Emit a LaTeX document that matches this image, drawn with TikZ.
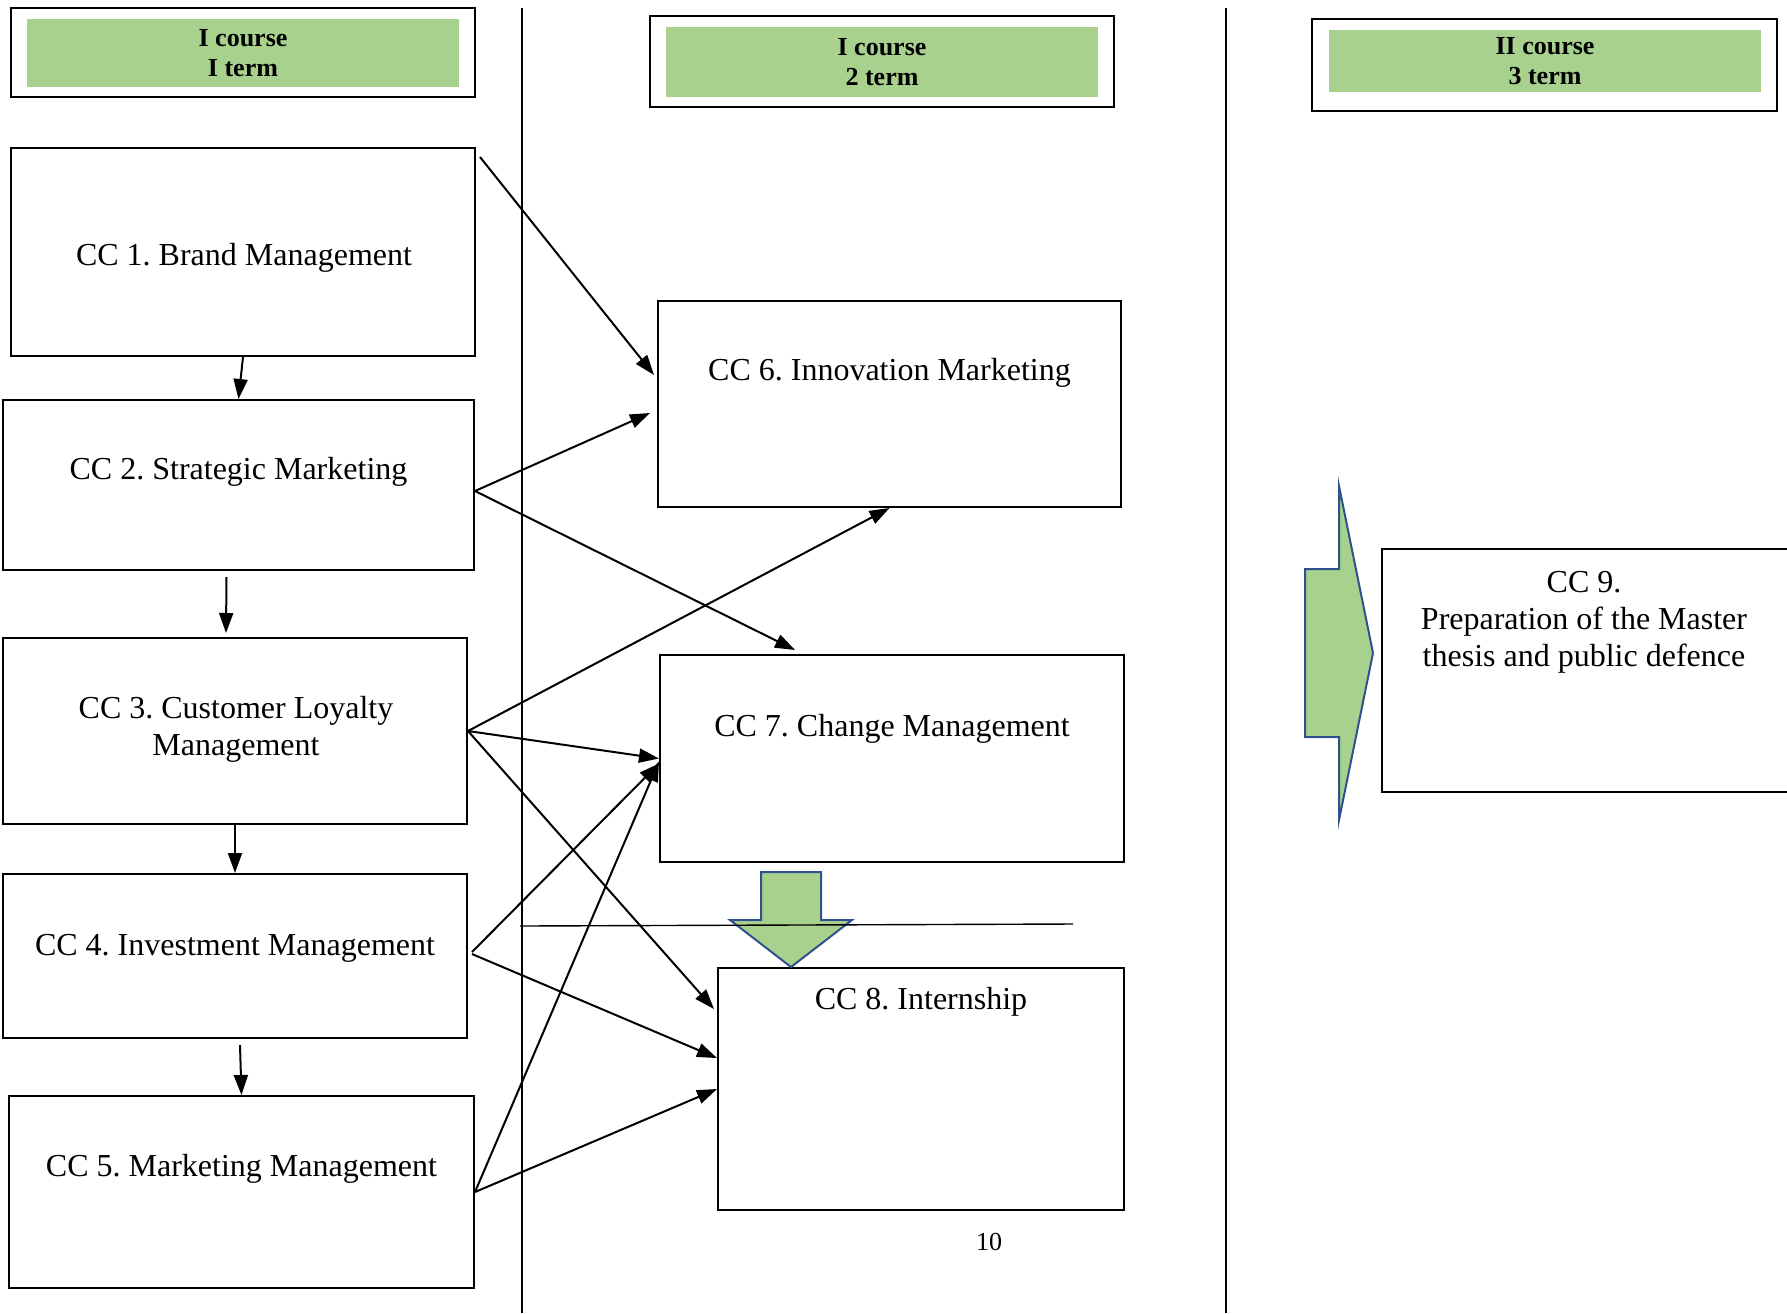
\documentclass[tikz,border=0pt]{standalone}
\usepackage{fontspec}
\setmainfont{Liberation Serif}
\frenchspacing
\usetikzlibrary{arrows.meta}
\definecolor{headgreen}{HTML}{A9D18E}
\definecolor{shapeblue}{HTML}{2F528F}
\begin{document}
\begin{tikzpicture}[x=0.5pt, y=-0.5pt,
    ccbox/.style={draw, line width=1pt, rectangle, inner sep=0pt},
    cctext/.style={align=center, font=\fontsize{16}{18.5}\selectfont},
    headbox/.style={fill=headgreen, inner sep=0pt, align=center, minimum width=216pt, font=\bfseries\fontsize{13}{15}\selectfont},
    headframe/.style={draw, line width=1pt},
    arr/.style={-{Triangle[length=10pt,width=7pt]}, line width=1pt},
    bigarrow/.style={fill=headgreen, draw=shapeblue, line width=1pt, line join=miter}]
                \useasboundingbox (0, 0) rectangle (1787, 1313);
                \clip (0, 0) rectangle (1787, 1313);

                % term headers
                \node [headbox, minimum height=34pt] (head1) at (243, 53) {I course\\I term};
                \draw [headframe] ([shift={(-16,-11)}]head1.north west) rectangle ([shift={(16,10)}]head1.south east);
                \node [headbox, minimum height=35pt] (head2) at (882, 62) {I course\\2 term};
                \draw [headframe] ([shift={(-16,-11)}]head2.north west) rectangle ([shift={(16,10)}]head2.south east);
                \node [headbox, minimum height=31pt] (head3) at (1545, 61) {II course\\3 term};
                \draw [headframe] ([shift={(-17,-11)}]head3.north west) rectangle ([shift={(16,19)}]head3.south east);

                % column dividers
                \draw [line width=0.8pt] (522, 8) -- (522, 1313);
                \draw [line width=0.8pt] (1226, 8) -- (1226, 1313);

                % first term
                \node [ccbox, minimum width=232pt, minimum height=104pt] (cc1) at (243, 252) {};
                \node [cctext] (cc1 text) at ([shift={(1,6)}]cc1.center) {CC 1. Brand Management};
                \node [ccbox, minimum width=235.5pt, minimum height=85pt] (cc2) at (238.5, 485) {};
                \node [cctext] (cc2 text) at ([shift={(0,73)}]cc2.north) {CC 2. Strategic Marketing};
                \node [ccbox, minimum width=232pt, minimum height=93pt] (cc3) at (235, 731) {};
                \node [cctext] (cc3 text) at ([shift={(1,92)}]cc3.north) {CC 3. Customer Loyalty\\Management};
                \node [ccbox, minimum width=232pt, minimum height=82pt] (cc4) at (235, 956) {};
                \node [cctext] (cc4 text) at ([shift={(0,75)}]cc4.north) {CC 4. Investment Management};
                \node [ccbox, minimum width=232.5pt, minimum height=96pt] (cc5) at (241.5, 1192) {};
                \node [cctext] (cc5 text) at ([shift={(0,74)}]cc5.north) {CC 5. Marketing Management};

                % second term
                \node [ccbox, minimum width=231.5pt, minimum height=103pt] (cc6) at (889.5, 404) {};
                \node [cctext] (cc6 text) at ([shift={(0,73)}]cc6.north) {CC 6. Innovation Marketing};
                \node [ccbox, minimum width=232pt, minimum height=103.5pt] (cc7) at (892, 758.5) {};
                \node [cctext] (cc7 text) at ([shift={(0,75)}]cc7.north) {CC 7. Change Management};
                \node [ccbox, minimum width=203pt, minimum height=121pt] (cc8) at (921, 1089) {};
                \node [cctext] (cc8 text) at ([shift={(0,35)}]cc8.north) {CC 8. Internship};

                % third term
                \node [ccbox, minimum width=204pt, minimum height=121.5pt] (cc9) at (1586, 670.5) {};
                \node [cctext] (cc9 text) at ([shift={(-2,74)}]cc9.north) {CC 9.\\Preparation of the Master\\thesis and public defence};

                \node [font=\fontsize{13}{15}\selectfont] (page) at (989, 1242) {10};

                % big arrows
                \draw [bigarrow] (761, 872) -- (821, 872) -- (821, 920) -- (852, 920) -- (791, 967)
                    -- (730, 920) -- (761, 920) -- cycle;
                \draw [line width=0.7pt] (520, 926) -- (1073, 924);
                \draw [bigarrow] (1305, 569) -- (1339, 569) -- (1339, 486) -- (1373, 653) -- (1339, 820)
                    -- (1339, 737) -- (1305, 737) -- cycle;

                % links
                \draw [arr] (cc1.south) -- (cc2.north);
                \draw [arr] ([shift={(-12,6)}]cc2.south) -- ([shift={(-9,-4)}]cc3.north);
                \draw [arr] (cc3.south) -- (cc4.north);
                \draw [arr] ([shift={(5,6)}]cc4.south) -- (cc5.north);
                \draw [arr] ([shift={(4,10)}]cc1.north east) -- ([shift={(-3,-29)}]cc6.west);
                \draw [arr] ([shift={(0,6)}]cc2.east) -- ([shift={(-7,9)}]cc6.west);
                \draw [arr] ([shift={(0,6)}]cc2.east) -- ([shift={(-97,-4)}]cc7.north);
                \draw [arr] (cc3.east) -- (cc6.south);
                \draw [arr] (cc3.east) -- (cc7.west);
                \draw [arr] (cc3.east) -- ([shift={(-3,-80)}]cc8.west);
                \draw [arr] ([shift={(4,-4)}]cc4.east) -- ([shift={(0,5)}]cc7.west);
                \draw [arr] ([shift={(4,-2)}]cc4.east) -- ([shift={(0,-31)}]cc8.west);
                \draw [arr] (cc5.east) -- ([shift={(0,3)}]cc7.west);
                \draw [arr] (cc5.east) -- (cc8.west);
            \end{tikzpicture}
\end{document}
